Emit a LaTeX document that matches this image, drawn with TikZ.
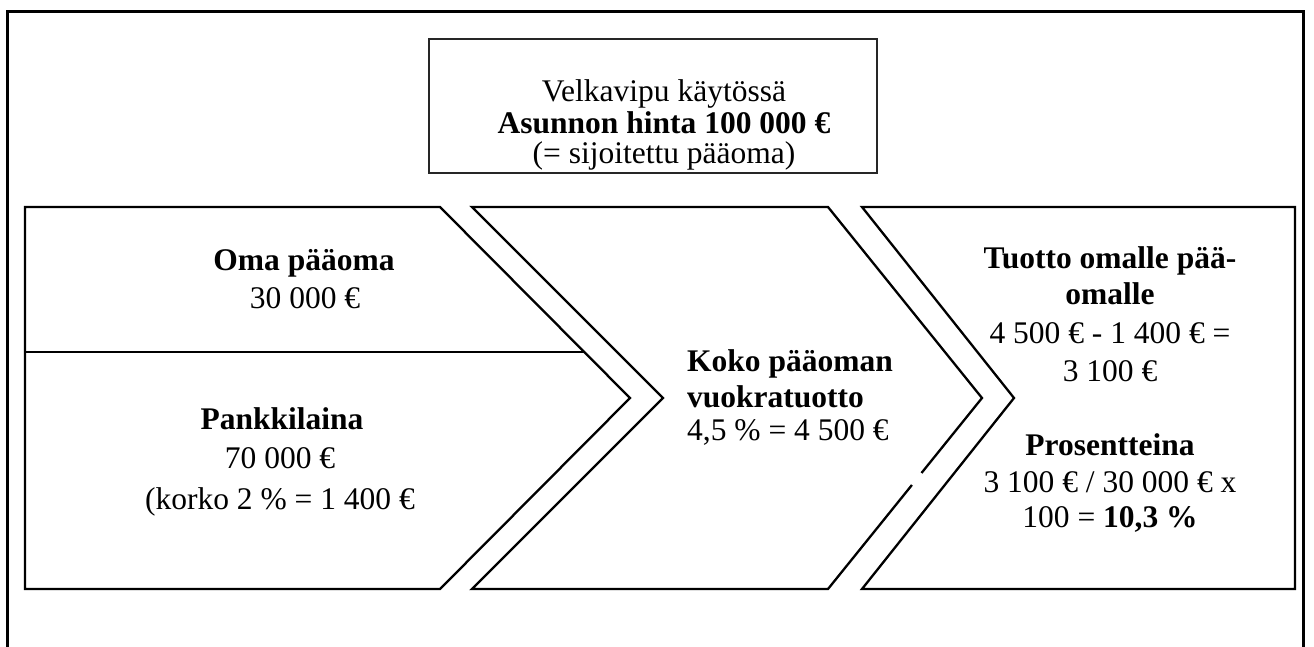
\documentclass[tikz,border=0pt]{standalone}
\usepackage{fontspec}
\setmainfont{Liberation Serif}
\begin{document}
\begin{tikzpicture}[x=1pt,y=-1pt,line join=miter,
  every node/.style={inner sep=0pt,font=\fontsize{31.5}{34}\selectfont},
  shapeline/.style={draw=black,line width=2.3pt},
  frameline/.style={draw=black,line width=3pt},
  boxline/.style={draw=black!85,line width=1.6pt},
  lbl/.style={anchor=base},
  llbl/.style={anchor=base west},
  blbl/.style={anchor=base,font=\fontsize{31.5}{34}\selectfont\bfseries},
  bllbl/.style={anchor=base west,font=\fontsize{31.5}{34}\selectfont\bfseries}]
\useasboundingbox (0,0) rectangle (1314,647);
\clip (0,0) rectangle (1314,647);
\fill[white] (0,0) rectangle (1314,647);
% outer frame (bottom edge outside the picture)
\draw[frameline] (7.5,12) rectangle (1303,700);
% top box, its text clipped by the box
\node[boxline,minimum width=448,minimum height=134] (topbox) at (653,106) {};
\begin{scope}
\clip (429,39) rectangle (877,172);
\node[lbl] (top1) at (664,102) {Velkavipu käytössä};
\node[blbl] (top2) at (664,134) {Asunnon hinta 100 000 €};
\node[lbl] (top3) at (664,164) {(= sijoitettu pääoma)};
\end{scope}
% left chevron
\draw[shapeline] (25,207) -- (440,207) -- (630,398) -- (440,589) -- (25,589) -- cycle;
\draw[shapeline] (25,352) -- (584.5,352);
% middle chevron (with a small break in its lower right edge)
\draw[shapeline] (911.9,485) -- (828,589) -- (472,589) -- (663,398) -- (472,207)
  -- (828,207) -- (982,398) -- (921.5,473);
% right chevron
\draw[shapeline] (862,207) -- (1295,207) -- (1295,589) -- (862,589) -- (1014,398) -- cycle;
% left texts
\node[blbl] (oma) at (304,270) {Oma pääoma};
\node[lbl] (oma2) at (305,308) {30 000 €};
\node[blbl] (pank) at (282,429) {Pankkilaina};
\node[lbl] (pank2) at (280,468) {70 000 €};
\node[lbl] (pank3) at (280,509) {(korko 2 \% = 1 400 €};
% middle texts
\node[bllbl] (koko1) at (687,371) {Koko pääoman};
\node[bllbl] (koko2) at (687,407) {vuokratuotto};
\node[llbl] (koko3) at (687,440) {4,5 \% = 4 500 €};
% right texts
\node[blbl] (tuo1) at (1110,268) {Tuotto omalle pää-};
\node[blbl] (tuo2) at (1110,304) {omalle};
\node[lbl] (tuo3) at (1110,343) {4 500 € - 1 400 € =};
\node[lbl] (tuo4) at (1110,381) {3 100 €};
\node[blbl] (pro1) at (1110,455) {Prosentteina};
\node[lbl] (pro2) at (1110,492) {3 100 € / 30 000 € x};
\node[lbl] (pro3) at (1110,527) {100 = \textbf{10,3 \%}};
\end{tikzpicture}
\end{document}
